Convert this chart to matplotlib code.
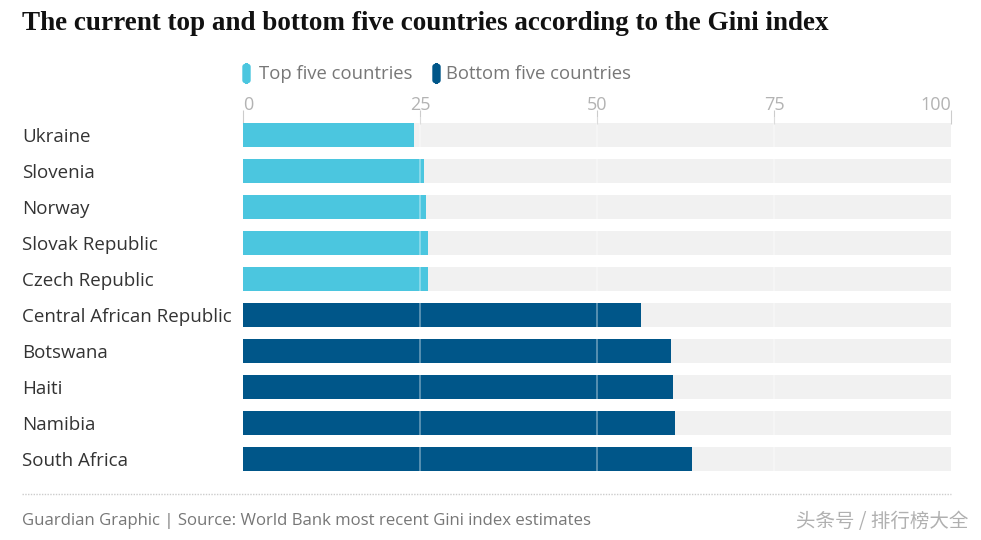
import matplotlib.pyplot as plt
from matplotlib.patches import FancyBboxPatch

countries = ["Ukraine", "Slovenia", "Norway", "Slovak Republic", "Czech Republic",
             "Central African Republic", "Botswana", "Haiti", "Namibia", "South Africa"]
gini = [24.2, 25.5, 25.8, 26.1, 26.1, 56.2, 60.5, 60.8, 61.0, 63.4]
group = ["top"] * 5 + ["bottom"] * 5
ticks = [0, 25, 50, 75, 100]

cyan = "#4bc6df"
navy = "#005689"
colors = {"top": cyan, "bottom": navy}

W, H = 981, 540
fig = plt.figure(figsize=(W / 100, H / 100), dpi=100)
sans = ["Open Sans", "DejaVu Sans"]

# axes placed in pixel terms
left, right, top, bottom = 243, 951, 117, 477
ax = fig.add_axes([left / W, 1 - bottom / H, (right - left) / W, (bottom - top) / H])

y = list(range(len(countries)))
ax.barh(y, [100] * len(y), height=0.667, color="#f1f1f1", zorder=1)
ax.barh(y, gini, height=0.667, color=[colors[g] for g in group], zorder=2)
for t in ticks[1:-1]:
    ax.axvline(t, color="white", alpha=0.4, lw=1.2, zorder=3)

ax.set_xlim(0, 100)
ax.set_ylim(len(y) - 0.5, -0.5)
for s in ax.spines.values():
    s.set_visible(False)

ax.set_yticks(y)
ax.set_yticklabels([])
ax.tick_params(axis="y", length=0)
for yi, name in zip(y, countries):
    fig.text(22 / W, 1 - (137 + 36 * yi) / H, name, ha="left", va="center",
             fontsize=13.5, color="#333333", family=sans)

ax.xaxis.tick_top()
ax.set_xticks(ticks)
ax.set_xticklabels([str(t) for t in ticks], family=sans, fontsize=13, color="#b3b3b3")
ax.tick_params(axis="x", length=10, direction="inout", color="#cccccc", pad=-3)
labs = ax.get_xticklabels()
labs[0].set_ha("left")
labs[-1].set_ha("right")

# title
fig.text(22 / W, 1 - 23 / H, "The current top and bottom five countries according to the Gini index",
         ha="left", va="center", fontsize=19.5, fontweight="bold", color="#111111",
         family=["Liberation Serif", "DejaVu Serif"])

# legend
def key(xpx, color):
    fig.patches.append(FancyBboxPatch((xpx / W, 1 - 83 / H), 7 / W, 19 / H,
                                      boxstyle="round,pad=0,rounding_size=0.005",
                                      transform=fig.transFigure, color=color))

key(243, cyan)
fig.text(259 / W, 1 - 74 / H, "Top five countries", ha="left", va="center",
         fontsize=13.3, color="#777777", family=sans)
key(433, navy)
fig.text(446 / W, 1 - 74 / H, "Bottom five countries", ha="left", va="center",
         fontsize=13.3, color="#777777", family=sans)

# footer
fig.add_artist(plt.Line2D([22 / W, 951 / W], [1 - 494 / H, 1 - 494 / H],
                          transform=fig.transFigure, color="#cccccc", lw=1, ls=(0, (1, 1))))
fig.text(22 / W, 1 - 521 / H, "Guardian Graphic | Source: World Bank most recent Gini index estimates",
         ha="left", va="center", fontsize=12.1, color="#777777", family=sans)
fig.text(968 / W, 1 - 522 / H, "头条号 / 排行榜大全", ha="right", va="center",
         fontsize=14, color="#b0b0b0", family=["Noto Sans CJK SC", "DejaVu Sans"])

fig.savefig("out.png", dpi=100)
